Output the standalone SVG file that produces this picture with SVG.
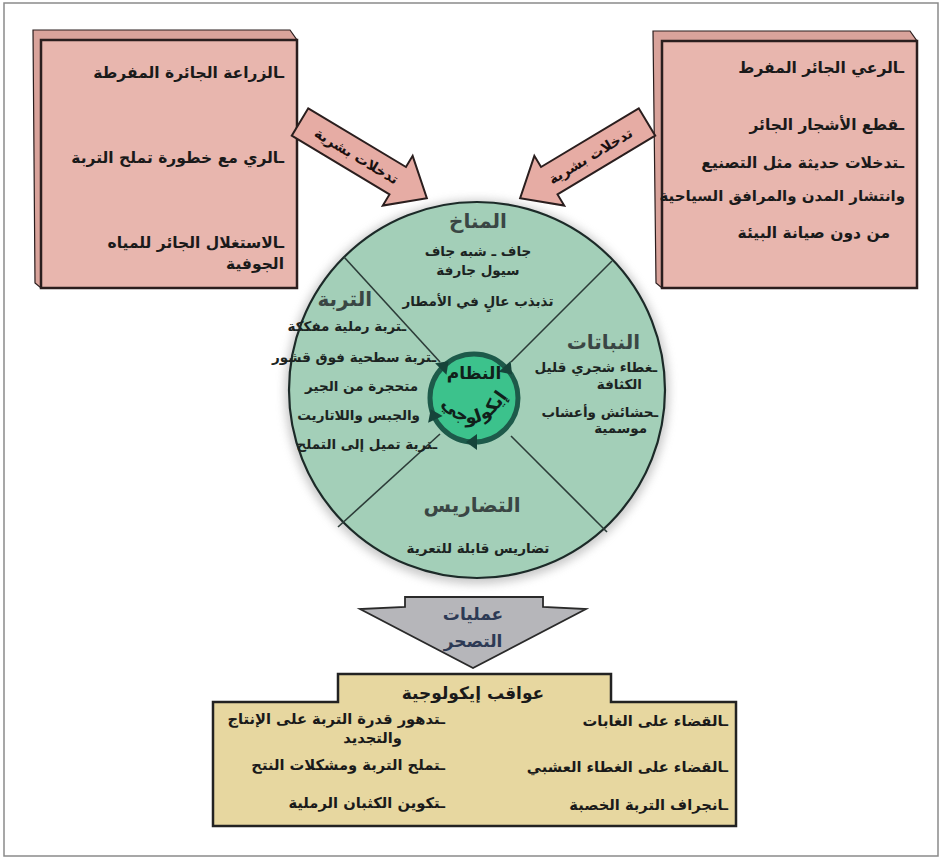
<svg xmlns="http://www.w3.org/2000/svg" width="942" height="860" viewBox="0 0 942 860">
<style>
  text{font-family:"DejaVu Sans","Noto Sans",sans-serif;font-weight:bold;fill:#1a1a1a}
  .bx{font-size:15.5px}
  .bb{font-size:14.7px}
  .hd{font-size:20px;fill:#3a4644}
  .cb{font-size:13.5px;fill:#1c2422}
  .pinkF{fill:#e8b6ae;stroke:#2a1e1e;stroke-width:2.5}
  .pinkB{fill:#d9a39b;stroke:#2a1e1e;stroke-width:1.2}
  .div{stroke:#2c3c38;stroke-width:1.6}
  .arr{fill:#e6aca4;stroke:#2a1e1e;stroke-width:2}
  .al{font-size:14px;fill:#1a1010}
</style>
<defs>
  <filter id="sh" x="-20%" y="-20%" width="140%" height="140%"><feGaussianBlur stdDeviation="5"/></filter>
  <path id="ah" d="M482,354 L471,346 L471,362 Z" fill="#16443a"/>
</defs>
<rect x="4" y="3" width="934" height="853" fill="#fff" stroke="#8a8a8a" stroke-width="1.5"/>

<g id="box-left">
  <polygon class="pinkB" points="33,30 290,30 297,40 297,288 41,288 35,283"/>
  <rect class="pinkF" x="41" y="40" width="256" height="248"/>
  <text class="bx" x="284" y="78" text-anchor="end">ـالزراعة الجائرة المفرطة</text>
  <text class="bx" x="284" y="163" text-anchor="end">ـالري مع خطورة تملح التربة</text>
  <text class="bx" x="284" y="248" text-anchor="end">ـالاستغلال الجائر للمياه</text>
  <text class="bx" x="284" y="269" text-anchor="end">الجوفية</text>
</g>

<g id="box-right">
  <polygon class="pinkB" points="653,31 910,31 917,41 917,288 662,288 656,283"/>
  <rect class="pinkF" x="662" y="41" width="255" height="247"/>
  <text class="bx" x="904" y="73" text-anchor="end">ـالرعي الجائر المفرط</text>
  <text class="bx" x="904" y="130" text-anchor="end">ـقطع الأشجار الجائر</text>
  <text class="bx" x="904" y="168" text-anchor="end">ـتدخلات حديثة مثل التصنيع</text>
  <text class="bx" x="905" y="201" text-anchor="end" style="font-size:15px">وانتشار المدن والمرافق السياحية</text>
  <text class="bx" x="890" y="238" text-anchor="end">من دون صيانة البيئة</text>
</g>

<g id="ecosystem-circle">
  <circle cx="477" cy="392" r="192" fill="#9a9a9a" opacity="0.55" filter="url(#sh)"/>
  <circle cx="477" cy="390" r="188" fill="#a3cfb8" stroke="#1c2a28" stroke-width="2.2"/>
  <line class="div" x1="344" y1="257" x2="440" y2="362"/>
  <line class="div" x1="612" y1="261" x2="511" y2="362"/>
  <line class="div" x1="338" y1="527" x2="440" y2="434"/>
  <line class="div" x1="607" y1="532" x2="511" y2="436"/>
  <text class="hd" x="478" y="228" text-anchor="middle">المناخ</text>
  <text class="cb" x="478" y="256" text-anchor="middle">جاف ـ شبه جاف</text>
  <text class="cb" x="478" y="275" text-anchor="middle">سيول جارفة</text>
  <text class="cb" x="478" y="306" text-anchor="middle">تذبذب عالٍ في الأمطار</text>
  <text class="hd" x="372" y="306" text-anchor="end">التربة</text>
  <text class="cb" x="406" y="331" text-anchor="end">ـتربة رملية مفككة</text>
  <text class="cb" x="436" y="362" text-anchor="end">ـتربة سطحية فوق قشور</text>
  <text class="cb" x="418" y="391" text-anchor="end">متحجرة من الجير</text>
  <text class="cb" x="420" y="420" text-anchor="end">والجبس واللاتاريت</text>
  <text class="cb" x="437" y="449" text-anchor="end">ـتربة تميل إلى التملح</text>
  <text class="hd" x="640" y="349" text-anchor="end">النباتات</text>
  <text class="cb" x="657" y="372" text-anchor="end">ـغطاء شجري قليل</text>
  <text class="cb" x="642" y="389" text-anchor="end">الكثافة</text>
  <text class="cb" x="658" y="417" text-anchor="end">ـحشائش وأعشاب</text>
  <text class="cb" x="647" y="433" text-anchor="end">موسمية</text>
  <text class="hd" x="472" y="512" text-anchor="middle">التضاريس</text>
  <text class="cb" x="478" y="553" text-anchor="middle">تضاريس قابلة للتعرية</text>
</g>

<g id="ecosystem-core">
  <circle cx="474" cy="398" r="44" fill="#3cc28c" stroke="#1d5a4a" stroke-width="5"/>
  <use href="#ah" transform="rotate(-45 474 398)"/>
  <use href="#ah" transform="rotate(48 474 398)"/>
  <use href="#ah" transform="rotate(180 474 398)"/>
  <use href="#ah" transform="rotate(245 474 398)"/>
  <text x="474" y="379" text-anchor="middle" style="font-size:17px;fill:#10201a">النظام</text>
  <path id="arcp" d="M434,394 Q474,456 514,386" fill="none"/>
  <text style="font-size:18px;fill:#10201a"><textPath href="#arcp" startOffset="50%" text-anchor="middle">إيكولوجي</textPath></text>
</g>

<g id="box-bottom">
  <path d="M213,702 H338 V674 H611 V702 H736 V826 H213 Z" fill="#e7d7a0" stroke="#222" stroke-width="2.5"/>
  <text x="473" y="699" text-anchor="middle" style="font-size:17px">عواقب إيكولوجية</text>
  <text class="bb" x="445" y="724" text-anchor="end">ـتدهور قدرة التربة على الإنتاج</text>
  <text class="bb" x="402" y="743" text-anchor="end">والتجديد</text>
  <text class="bb" x="445" y="770" text-anchor="end">ـتملح التربة ومشكلات النتح</text>
  <text class="bb" x="445" y="808" text-anchor="end">ـتكوين الكثبان الرملية</text>
  <text class="bb" x="728" y="726" text-anchor="end">ـالقضاء على الغابات</text>
  <text class="bb" x="728" y="772" text-anchor="end">ـالقضاء على الغطاء العشبي</text>
  <text class="bb" x="728" y="810" text-anchor="end">ـانجراف التربة الخصبة</text>
</g>

<g id="connectors">
  <g id="arrow-left" transform="translate(300,122) rotate(31)">
    <polygon class="arr" points="0,-16 114,-16 114,-29 148,0 114,29 114,16 0,16"/>
    <text class="al" x="66" y="5" text-anchor="middle">تدخلات بشرية</text>
  </g>
  <g id="arrow-right" transform="translate(647,122) rotate(149)">
    <polygon class="arr" points="0,-16 114,-16 114,-29 148,0 114,29 114,16 0,16"/>
    <text class="al" x="66" y="5" text-anchor="middle" transform="rotate(180 66 0)">تدخلات بشرية</text>
  </g>
  <g id="arrow-down">
    <path d="M405,597 H543 V607 L586,609 L473,668 L360,609 L405,607 Z" fill="#b6b6ba" stroke="#2a2a2a" stroke-width="1.8"/>
    <text x="473" y="620" text-anchor="middle" style="font-size:17px;fill:#2d3a55">عمليات</text>
    <text x="473" y="647" text-anchor="middle" style="font-size:17px;fill:#2d3a55">التصحر</text>
  </g>
</g>
</svg>
